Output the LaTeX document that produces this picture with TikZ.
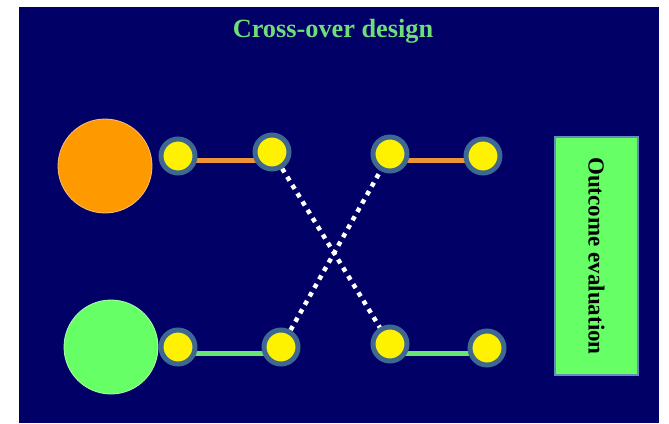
\documentclass[tikz,border=0pt]{standalone}
\usepackage{fontspec}
\setmainfont{Liberation Serif}
\pgfdeclarelayer{bg}
\pgfdeclarelayer{links}
\pgfsetlayers{bg,links,main}
\definecolor{navy}{RGB}{0,0,102}
\definecolor{armorange}{RGB}{255,153,0}
\definecolor{armgreen}{RGB}{102,255,102}
\definecolor{ringblue}{RGB}{62,104,146}
\definecolor{titlegreen}{RGB}{110,222,120}
\definecolor{barorange}{RGB}{238,148,52}
\definecolor{bargreen}{RGB}{102,232,112}
\definecolor{boxedge}{RGB}{100,140,190}
\tikzset{
  arm/.style={circle, minimum size=94pt, inner sep=0pt, line width=0.8pt},
  visit/.style={circle, minimum size=34pt, inner sep=0pt, fill=yellow, draw=ringblue, line width=5pt},
  bar/.style={line width=5pt},
  swap/.style={draw=white, line width=4.5pt, dash pattern=on 4.5pt off 5.2pt},
}
\begin{document}
\begin{tikzpicture}[x=1pt, y=-1pt]
\useasboundingbox (0,0) rectangle (669,423);
\begin{pgfonlayer}{bg}
  \fill[white] (0,0) rectangle (669,423);
  \fill[navy] (19,7) rectangle (659,423);
\end{pgfonlayer}

% title
\node[text=titlegreen, font=\bfseries\fontsize{26.3}{30}\selectfont, anchor=base] (title) at (333,37) {Cross-over design};

% treatment arms
\node[arm, fill=armorange, draw={rgb,255:red,250;green,190;blue,120}] (armA) at (105,166) {};
\node[arm, fill=armgreen, draw={rgb,255:red,170;green,255;blue,170}] (armB) at (111,347) {};

% visits, first row
\node[visit] (a1) at (178,156) {};
\node[visit] (a2) at (272,152) {};
\node[visit] (a3) at (390,154) {};
\node[visit] (a4) at (483,156) {};
% visits, second row
\node[visit] (b1) at (178,347) {};
\node[visit] (b2) at (281,347) {};
\node[visit] (b3) at (390,344) {};
\node[visit] (b4) at (487,348) {};

\coordinate (rowA) at (0,160);
\coordinate (rowB) at (0,353);

\begin{pgfonlayer}{links}
  \draw[bar, barorange] (a1 |- rowA) -- (a2 |- rowA);
  \draw[bar, barorange] (a3 |- rowA) -- (a4 |- rowA);
  \draw[bar, bargreen] (b1 |- rowB) -- (b2 |- rowB);
  \draw[bar, bargreen] (b3 |- rowB) -- (b4 |- rowB);
  \draw[swap] (a2.center) -- (b3.center);
  \draw[swap] (b2.center) -- (a3.center);
\end{pgfonlayer}

% evaluation box
\node[draw=boxedge, line width=1.2pt, fill=armgreen, minimum width=83pt, minimum height=238pt, inner sep=0pt] (eval) at (596.5,256) {};
\node[rotate=-90, font=\bfseries\fontsize{23}{26}\selectfont, text=black] (evaltext) at (eval.center) {Outcome evaluation};
\end{tikzpicture}
\end{document}
